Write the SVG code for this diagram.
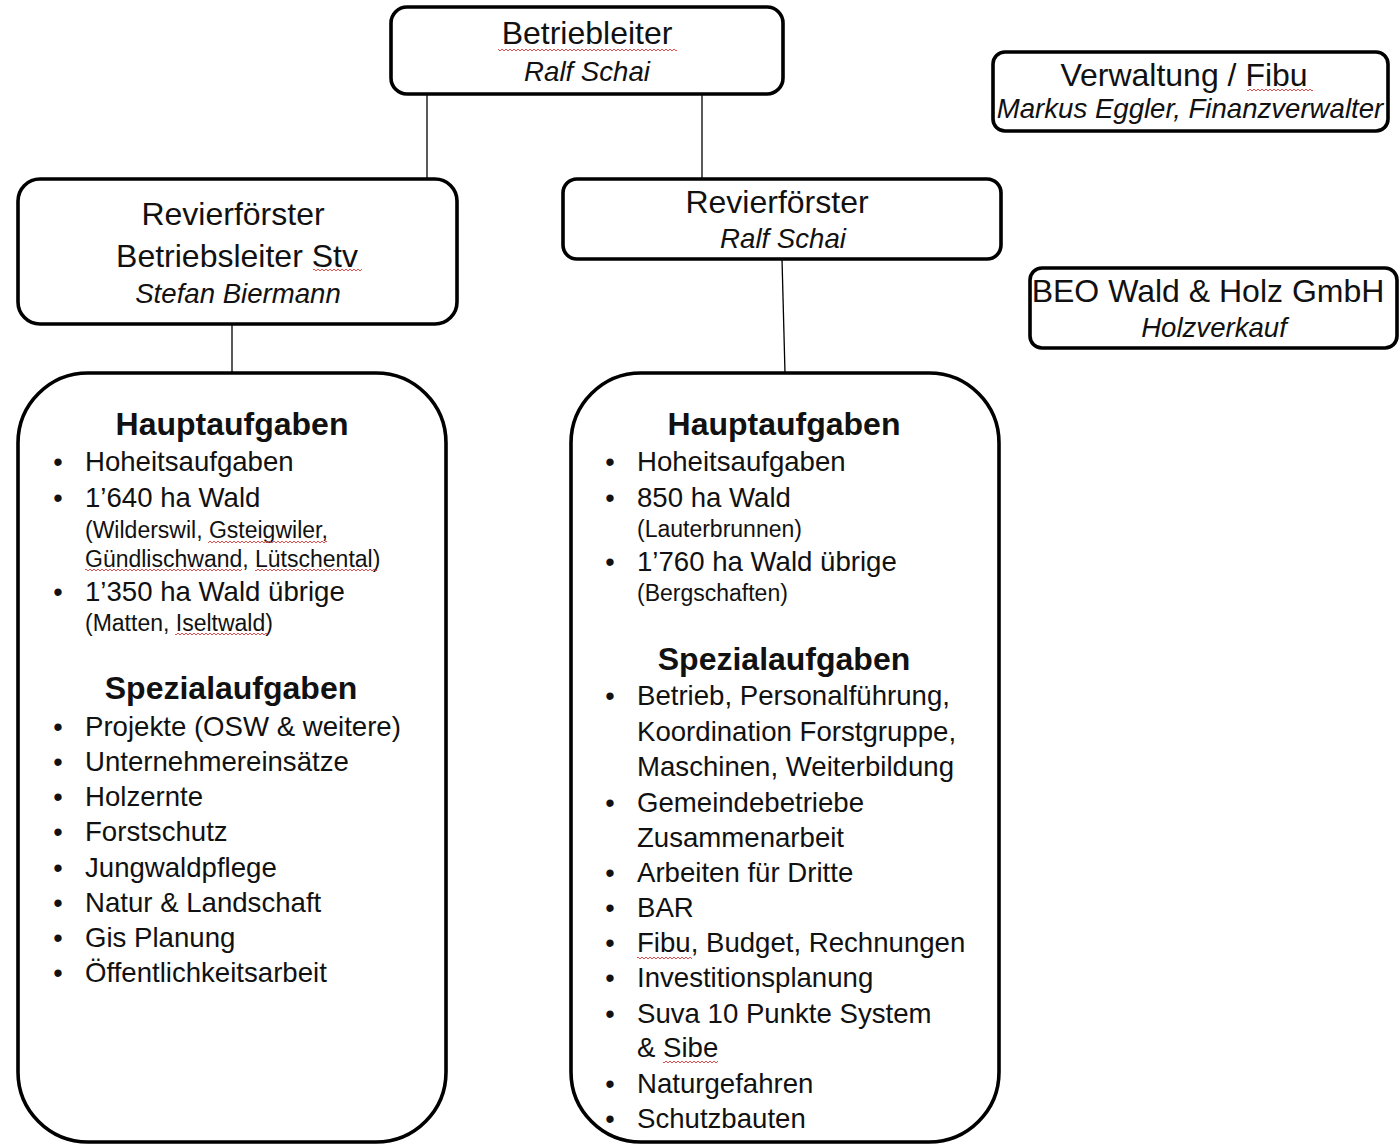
<svg xmlns="http://www.w3.org/2000/svg" width="1400" height="1145" viewBox="0 0 1400 1145">
<style>
  .box { fill: #ffffff; stroke: #000000; stroke-width: 3.6; }
  .conn { stroke: #000000; stroke-width: 1.3; fill: none; }
  text { font-family: "Liberation Sans", Arial, sans-serif; fill: #111111; }
  .t { font-size: 32px; text-anchor: middle; }
  .i { font-size: 27.6px; font-style: italic; text-anchor: middle; }
  .h { font-size: 32px; font-weight: bold; text-anchor: middle; }
  .li { font-size: 27.6px; }
  .sm { font-size: 23px; }
  .bul { font-size: 27px; text-anchor: middle; }
  .sq { fill: url(#squig); }
</style>
<defs>
  <pattern id="squig" patternUnits="userSpaceOnUse" width="4" height="4">
    <path d="M0,3 L2,1 L4,3" stroke="#e03a3a" stroke-width="0.9" fill="none"/>
  </pattern>
</defs>
<rect width="1400" height="1145" fill="#ffffff"/>

<g id="connectors">
  <line class="conn" x1="427" y1="94" x2="427" y2="179"/>
  <line class="conn" x1="702" y1="94" x2="702" y2="179"/>
  <line class="conn" x1="232" y1="324" x2="232" y2="373"/>
  <line class="conn" x1="782" y1="259" x2="785" y2="373"/>
</g>

<g id="betriebleiter">
  <rect class="box" x="391" y="7" width="392" height="87" rx="16"/>
  <text class="t" x="587" y="44">Betriebleiter</text>
  <rect class="sq" x="498" y="48" width="179" height="4"/>
  <text class="i" x="587" y="81">Ralf Schai</text>
</g>

<g id="verwaltung">
  <rect class="box" x="993" y="52" width="395" height="79" rx="12"/>
  <text class="t" x="1184" y="86">Verwaltung / Fibu</text>
  <rect class="sq" x="1247" y="88" width="66" height="4"/>
  <text class="i" x="1190" y="118">Markus Eggler, Finanzverwalter</text>
</g>

<g id="revier-left">
  <rect class="box" x="18" y="179" width="439" height="145" rx="22"/>
  <text class="t" x="233" y="225">Revierförster</text>
  <text class="t" x="237" y="267">Betriebsleiter Stv</text>
  <rect class="sq" x="313" y="268" width="49" height="4"/>
  <text class="i" x="238" y="303">Stefan Biermann</text>
</g>

<g id="revier-right">
  <rect class="box" x="563" y="179" width="438" height="80" rx="14"/>
  <text class="t" x="777" y="213">Revierförster</text>
  <text class="i" x="783" y="248">Ralf Schai</text>
</g>

<g id="beo">
  <rect class="box" x="1030" y="268" width="367" height="80" rx="12"/>
  <text class="t" x="1208" y="302">BEO Wald &amp; Holz GmbH</text>
  <text class="i" x="1214" y="337">Holzverkauf</text>
</g>

<g id="aufgaben-left">
  <rect class="box" x="18" y="373" width="428" height="769" rx="70"/>
  <text class="h" x="232" y="435">Hauptaufgaben</text>
  <text class="bul" x="58" y="471">•</text>
  <text class="li" x="85" y="471">Hoheitsaufgaben</text>
  <text class="bul" x="58" y="507">•</text>
  <text class="li" x="85" y="507">1’640 ha Wald</text>
  <text class="sm" x="85" y="538">(Wilderswil, Gsteigwiler,</text>
  <rect class="sq" x="208" y="540" width="119" height="4"/>
  <text class="sm" x="85" y="567">Gündlischwand, Lütschental)</text>
  <rect class="sq" x="85" y="568" width="157" height="4"/>
  <rect class="sq" x="255" y="568" width="122" height="4"/>
  <text class="bul" x="58" y="601">•</text>
  <text class="li" x="85" y="601">1’350 ha Wald übrige</text>
  <text class="sm" x="85" y="631">(Matten, Iseltwald)</text>
  <rect class="sq" x="175" y="632" width="92" height="4"/>
  <text class="h" x="231" y="699">Spezialaufgaben</text>
  <text class="bul" x="58" y="736">•</text>
  <text class="li" x="85" y="736">Projekte (OSW &amp; weitere)</text>
  <text class="bul" x="58" y="771">•</text>
  <text class="li" x="85" y="771">Unternehmereinsätze</text>
  <text class="bul" x="58" y="806">•</text>
  <text class="li" x="85" y="806">Holzernte</text>
  <text class="bul" x="58" y="841">•</text>
  <text class="li" x="85" y="841">Forstschutz</text>
  <text class="bul" x="58" y="877">•</text>
  <text class="li" x="85" y="877">Jungwaldpflege</text>
  <text class="bul" x="58" y="912">•</text>
  <text class="li" x="85" y="912">Natur &amp; Landschaft</text>
  <text class="bul" x="58" y="947">•</text>
  <text class="li" x="85" y="947">Gis Planung</text>
  <text class="bul" x="58" y="982">•</text>
  <text class="li" x="85" y="982">Öffentlichkeitsarbeit</text>
</g>

<g id="aufgaben-right">
  <rect class="box" x="571" y="373" width="428" height="769" rx="70"/>
  <text class="h" x="784" y="435">Hauptaufgaben</text>
  <text class="bul" x="610" y="471">•</text>
  <text class="li" x="637" y="471">Hoheitsaufgaben</text>
  <text class="bul" x="610" y="507">•</text>
  <text class="li" x="637" y="507">850 ha Wald</text>
  <text class="sm" x="637" y="537">(Lauterbrunnen)</text>
  <text class="bul" x="610" y="571">•</text>
  <text class="li" x="637" y="571">1’760 ha Wald übrige</text>
  <text class="sm" x="637" y="601">(Bergschaften)</text>
  <text class="h" x="784" y="670">Spezialaufgaben</text>
  <text class="bul" x="610" y="705">•</text>
  <text class="li" x="637" y="705">Betrieb, Personalführung,</text>
  <text class="li" x="637" y="741">Koordination Forstgruppe,</text>
  <text class="li" x="637" y="776">Maschinen, Weiterbildung</text>
  <text class="bul" x="610" y="812">•</text>
  <text class="li" x="637" y="812">Gemeindebetriebe</text>
  <text class="li" x="637" y="847">Zusammenarbeit</text>
  <text class="bul" x="610" y="882">•</text>
  <text class="li" x="637" y="882">Arbeiten für Dritte</text>
  <text class="bul" x="610" y="917">•</text>
  <text class="li" x="637" y="917">BAR</text>
  <text class="bul" x="610" y="952">•</text>
  <text class="li" x="637" y="952">Fibu, Budget, Rechnungen</text>
  <rect class="sq" x="637" y="956" width="55" height="4"/>
  <text class="bul" x="610" y="987">•</text>
  <text class="li" x="637" y="987">Investitionsplanung</text>
  <text class="bul" x="610" y="1023">•</text>
  <text class="li" x="637" y="1023">Suva 10 Punkte System</text>
  <text class="li" x="637" y="1057">&amp; Sibe</text>
  <rect class="sq" x="663" y="1060" width="55" height="4"/>
  <text class="bul" x="610" y="1093">•</text>
  <text class="li" x="637" y="1093">Naturgefahren</text>
  <text class="bul" x="610" y="1128">•</text>
  <text class="li" x="637" y="1128">Schutzbauten</text>
</g>
</svg>
